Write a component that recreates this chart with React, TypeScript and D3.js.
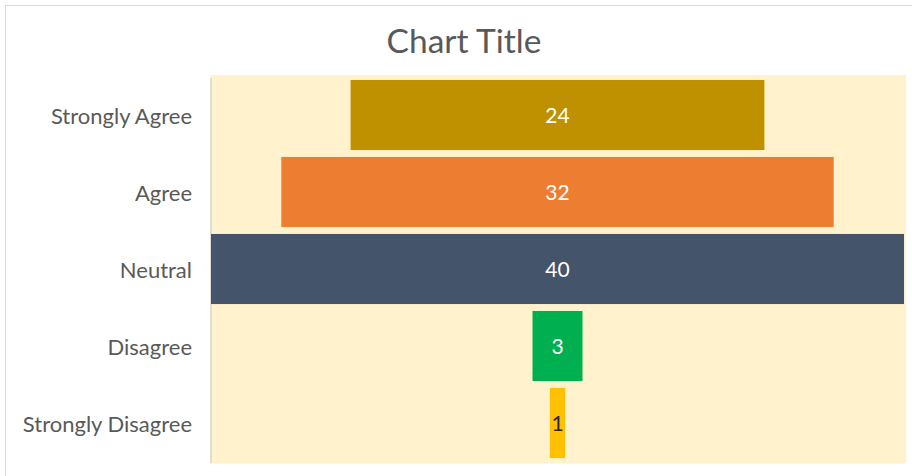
import React from "react";
import * as d3 from "d3";

const categories = ["Strongly Agree", "Agree", "Neutral", "Disagree", "Strongly Disagree"];
const values = [24, 32, 40, 3, 1];
const colors = ["#BF9000", "#ED7D31", "#44546A", "#00B050", "#FFC000"];
const labelColors = ["#FFFFFF", "#FFFFFF", "#FFFFFF", "#FFFFFF", "#262626"];
const title = "Chart Title";

const W = 912;
const H = 476;
const plot = { left: 210, right: 906, top: 75, bottom: 463 };
const FONT = "Lato, 'Open Sans', sans-serif";

export default function App() {
  const maxV = d3.max(values) as number;
  const x = d3.scaleLinear().domain([-maxV / 2, maxV / 2]).range([211, 904]);
  const y = d3
    .scaleBand<string>()
    .domain(categories)
    .range([76.5, 461.5])
    .paddingInner(0.09)
    .paddingOuter(0.045);

  return (
    <div style={{ position: "absolute", left: 0, top: 0 }}>
      <svg width={W} height={H} style={{ display: "block", background: "#FFFFFF" }}>
        <rect x={5.5} y={5.5} width={W + 20} height={H + 20} fill="#FFFFFF" stroke="#D9D9D9" strokeWidth={1} />
        <text
          x={464}
          y={53}
          textAnchor="middle"
          fontFamily={FONT}
          fontSize={33.5}
          fill="#595959"
        >
          {title}
        </text>
        <rect
          x={plot.left}
          y={plot.top}
          width={plot.right - plot.left}
          height={plot.bottom - plot.top}
          fill="#FFF2CC"
        />
        <line
          x1={plot.left + 0.5}
          x2={plot.right}
          y1={plot.bottom + 0.5}
          y2={plot.bottom + 0.5}
          stroke="#F2F2F2"
          strokeDasharray="2,2"
        />
        <line
          x1={211}
          x2={211}
          y1={78}
          y2={plot.bottom}
          stroke="#C9D0DC"
          strokeWidth={1.2}
        />
        {categories.map((c, i) => {
          const v = values[i];
          const x0 = x(-v / 2);
          const x1 = x(v / 2);
          const by = y(c) as number;
          const bh = y.bandwidth();
          const inset = i === 2 ? 0 : 1;
          return (
            <g key={c}>
              <rect x={x0 + inset} y={by} width={Math.max(1, x1 - x0 - 2 * inset)} height={bh} fill={colors[i]} />
              <text
                x={x(0)}
                y={by + bh / 2 + 0.5}
                dy="0.35em"
                textAnchor="middle"
                fontFamily={FONT}
                fontSize={21}
                fill={labelColors[i]}
              >
                {v}
              </text>
              <text
                x={192}
                y={by + bh / 2 + 1}
                dy="0.35em"
                textAnchor="end"
                fontFamily={FONT}
                fontSize={22}
                fill="#595959"
              >
                {c}
              </text>
            </g>
          );
        })}
      </svg>
    </div>
  );
}
